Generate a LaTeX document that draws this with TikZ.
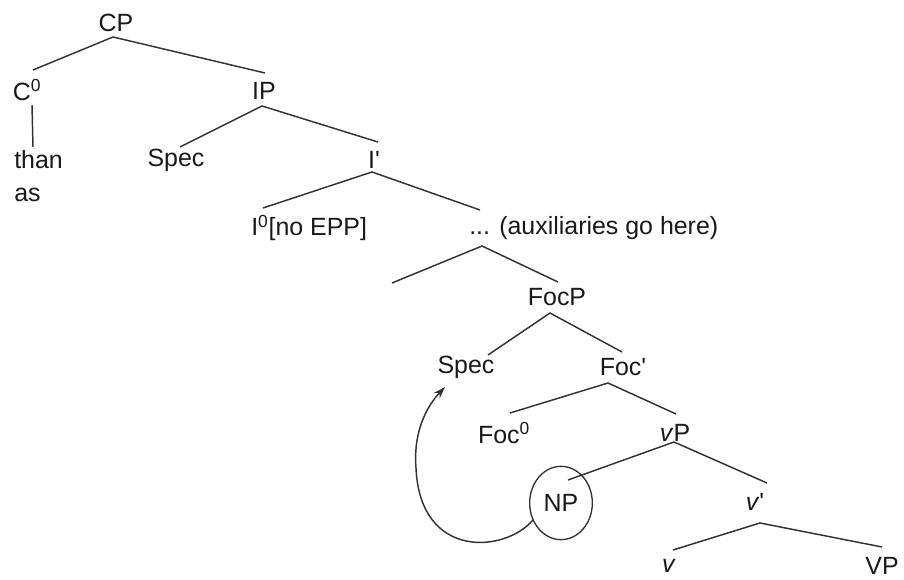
\documentclass[tikz,border=0pt]{standalone}
\usepackage{fontspec}
\setmainfont{Liberation Sans}
\usetikzlibrary{arrows.meta,shapes.geometric}
\begin{document}
\begin{tikzpicture}[x=0.75pt,y=-0.75pt,
  lbl/.style={inner sep=0pt,font=\fontsize{18.7}{22}\selectfont,text=black!90},
  br/.style={draw=black!80,line width=1.1pt},
  mv/.style={draw=black!80,line width=1.1pt,-{Stealth[length=9pt,width=6pt]}}]
\useasboundingbox (0,0) rectangle (904,580);
% labels
\node[lbl] (CP) at (116,23) {CP};
\node[lbl] (C0) at (27,90) {C\textsuperscript{0}};
\node[lbl,anchor=west] (than) at (14,160) {than};
\node[lbl,anchor=west] (as) at (14,195) {as};
\node[lbl] (IP) at (264,91) {IP};
\node[lbl] (Spec1) at (176,160) {Spec};
\node[lbl] (Ibar) at (374,160) {I\textquotesingle};
\node[lbl,anchor=west] (I0) at (251,228) {I\textsuperscript{0}[no EPP]};
\node[lbl,anchor=west] (aux) at (469,228) {... (auxiliaries go here)};
\node[lbl] (FocP) at (557,297) {FocP};
\node[lbl] (Spec2) at (466,367) {Spec};
\node[lbl] (Focbar) at (623,367) {Foc\textquotesingle};
\node[lbl] (Foc0) at (504,433) {Foc\textsuperscript{0}};
\node[lbl] (vP) at (675,433) {\textit{v}P};
\node[lbl,draw=black!80,line width=1pt,ellipse,minimum width=47pt,minimum height=55pt] (NP) at (561,503) {NP};
\node[lbl] (vbar) at (755,502) {\textit{v}\textquotesingle};
\node[lbl] (v) at (669,566) {\textit{v}};
\node[lbl,anchor=east] (VP) at (899,566) {VP};
% branch points
\coordinate (CPb) at (113,37);
\coordinate (C0t) at (33,70);
\coordinate (IPt) at (265,73);
\coordinate (C0b) at (32,105);
\coordinate (thant) at (33,147);
\coordinate (IPb) at (262,106);
\coordinate (Spec1t) at (180,147);
\coordinate (Ibart) at (378,142);
\coordinate (Ibarb) at (372,172);
\coordinate (I0t) at (263,208);
\coordinate (auxt) at (480,210);
\coordinate (auxb) at (482,246);
\coordinate (emptyb) at (392,283);
\coordinate (FocPt) at (558,282);
\coordinate (FocPb) at (550,313);
\coordinate (Spec2t) at (488,355);
\coordinate (Focbart) at (622,352);
\coordinate (Focbarb) at (608,383);
\coordinate (Foc0t) at (510,413);
\coordinate (vPt) at (676,414);
\coordinate (vPb) at (674,442);
\coordinate (NPt2) at (568,480);
\coordinate (vbart) at (767,483);
\coordinate (vbarb) at (760,523);
\coordinate (vt) at (673,550);
\coordinate (VPt) at (882,547);
% branches
\draw[br] (C0t) -- (CPb) -- (IPt);
\draw[br] (C0b) -- (thant);
\draw[br] (Spec1t) -- (IPb) -- (Ibart);
\draw[br] (I0t) -- (Ibarb) -- (auxt);
\draw[br] (emptyb) -- (auxb) -- (FocPt);
\draw[br] (Spec2t) -- (FocPb) -- (Focbart);
\draw[br] (Foc0t) -- (Focbarb) -- (vPt);
\draw[br] (NPt2) -- (vPb) -- (vbart);
\draw[br] (vt) -- (vbarb) -- (VPt);
% movement arrow
\coordinate (mvs) at (533,520);
\coordinate (mvm) at (416,468);
\coordinate (mve) at (445,387);
\draw[mv] (mvs) .. controls (505,553) and (420,560) .. (mvm) .. controls (413,430) and (428,405) .. (mve);
\end{tikzpicture}
\end{document}
